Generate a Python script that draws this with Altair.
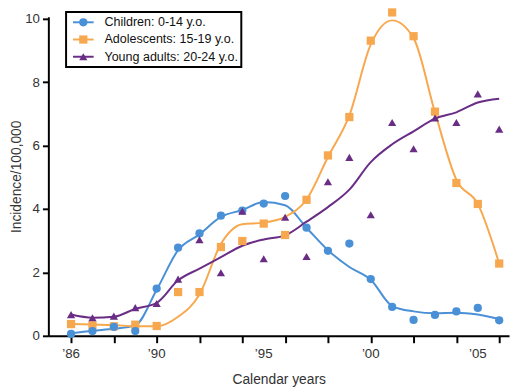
import altair as alt
import pandas as pd

years = list(range(1986, 2007))
series = ["Children: 0-14 y.o.", "Adolescents: 15-19 y.o.", "Young adults: 20-24 y.o."]
colors = ["#4a90d6", "#f7a84e", "#6a2d85"]
shapes = ["circle", "square", "triangle-up"]

# observed points
children_pts = [0.06, 0.15, 0.28, 0.15, 1.49, 2.78, 3.23, 3.79, 3.95, 4.17, 4.41,
                3.41, 2.68, 2.91, 1.79, 0.91, 0.50, 0.66, 0.77, 0.88, 0.49]
adolescents_pts = [0.37, 0.33, 0.30, 0.35, 0.31, 1.38, 1.38, 2.80, 2.99, 3.54, 3.18,
                   4.29, 5.69, 6.90, 9.31, 10.20, 9.45, 7.07, 4.82, 4.16, 2.28]
young_pts = [0.67, 0.57, 0.62, 0.89, 1.02, 1.79, 3.03, 1.99, 3.93, 2.43, 3.74,
             2.50, 4.86, 5.63, 3.82, 6.73, 5.90, 6.87, 6.73, 7.63, 6.52]

# smoothed curves
children_fit = [0.08, 0.16, 0.22, 0.33, 1.45, 2.70, 3.20, 3.75, 3.97, 4.22, 4.12,
                3.41, 2.70, 2.17, 1.77, 0.94, 0.77, 0.71, 0.73, 0.67, 0.53]
adolescents_fit = [0.37, 0.36, 0.34, 0.30, 0.30, 0.60, 1.30, 2.90, 3.52, 3.57, 3.75,
                   4.30, 5.64, 6.95, 9.19, 9.95, 9.39, 7.05, 4.92, 4.16, 2.28]
young_fit = [0.67, 0.57, 0.60, 0.85, 1.04, 1.75, 2.12, 2.48, 2.84, 3.04, 3.17,
             3.60, 4.06, 4.61, 5.48, 6.04, 6.45, 6.85, 7.05, 7.36, 7.48]

y_ticks = [0, 2, 4, 6, 8, 10]
x_label_years = [1986, 1990, 1995, 2000, 2005]
x_labels = ["\u201986", "\u201990", "\u201995", "\u201900", "\u201905"]

pts_by_series = {series[0]: children_pts, series[1]: adolescents_pts, series[2]: young_pts}
fit_by_series = {series[0]: children_fit, series[1]: adolescents_fit, series[2]: young_fit}
shape_by_series = dict(zip(series, shapes))
color_by_series = dict(zip(series, colors))

fit_rows = []
for s in series:
    for yr, v in zip(years, fit_by_series[s]):
        fit_rows.append({"year": yr, "value": v, "series": s})
fit_df = pd.DataFrame(fit_rows)

FONT = "Liberation Sans"
PLOT_H = 324

x_scale = alt.Scale(domain=[1984.94, 2006.46], nice=False, zero=False)
y_scale = alt.Scale(domain=[0, 10.06], nice=False)
color_scale = alt.Scale(domain=series, range=colors)

# year ticks on the axis; the year labels are drawn by a text layer below
x_axis = alt.Axis(values=years, labels=False, title="Calendar years",
                  grid=False, tickSize=7, titlePadding=29, titleFontSize=14)
y_axis = alt.Axis(values=y_ticks, title="Incidence/100,000", grid=False,
                  tickSize=6, labelPadding=3, titlePadding=1,
                  labelFontSize=13.5, titleFontSize=14)

lines = alt.Chart(fit_df).mark_line(strokeWidth=2, interpolate="monotone").encode(
    x=alt.X("year:Q", scale=x_scale, axis=x_axis),
    y=alt.Y("value:Q", scale=y_scale, axis=y_axis),
    color=alt.Color("series:N", scale=color_scale, legend=None),
    detail="series:N",
)

xlab_df = pd.DataFrame({"year": x_label_years, "label": x_labels})
x_tick_labels = alt.Chart(xlab_df).mark_text(
    align="center", baseline="middle", font=FONT, fontSize=13.5, color="#333333"
).encode(
    x=alt.X("year:Q", scale=x_scale),
    y=alt.value(PLOT_H + 19),
    text="label:N",
)

# point layers, drawn in this order: adolescents, children, young adults
point_layers = []
for s in [series[1], series[0], series[2]]:
    df = pd.DataFrame({"year": years, "value": pts_by_series[s], "series": s})
    point_layers.append(
        alt.Chart(df).mark_point(filled=True, opacity=1, clip=False, size=70,
                                 shape=shape_by_series[s]).encode(
            x=alt.X("year:Q", scale=x_scale),
            y=alt.Y("value:Q", scale=y_scale),
            color=alt.Color("series:N", scale=color_scale, legend=None),
        )
    )

# legend box (layout in pixels relative to the plot area)
LEG_X0, LEG_X1, LEG_Y0, LEG_Y1 = 18, 196, -5, 51
LEG_ROWS = [5.5, 23, 40.5]
SYM_X0, SYM_X1, TXT_X = 25, 46, 57

legend_layers = [
    alt.Chart(pd.DataFrame({"series": ["legend"]})).mark_rect(
        fill="white", stroke="black", strokeWidth=2
    ).encode(x=alt.value(LEG_X0), x2=alt.value(LEG_X1),
             y=alt.value(LEG_Y0), y2=alt.value(LEG_Y1))
]
for s, ry in zip(series, LEG_ROWS):
    one = pd.DataFrame({"series": [s]})
    c = color_by_series[s]
    legend_layers.append(
        alt.Chart(one).mark_rule(color=c, strokeWidth=2).encode(
            x=alt.value(SYM_X0), x2=alt.value(SYM_X1), y=alt.value(ry))
    )
    legend_layers.append(
        alt.Chart(one).mark_point(filled=True, opacity=1, size=70, color=c,
                                  shape=shape_by_series[s]).encode(
            x=alt.value((SYM_X0 + SYM_X1) / 2), y=alt.value(ry))
    )
    legend_layers.append(
        alt.Chart(one).mark_text(align="left", baseline="middle", font=FONT,
                                 fontSize=12.7, color="#111111").encode(
            x=alt.value(TXT_X), y=alt.value(ry), text="series:N")
    )

chart = (
    alt.layer(lines, x_tick_labels, *point_layers, *legend_layers)
    .properties(
        width=468, height=PLOT_H,
        autosize=alt.AutoSizeParams(type="none"),
        padding={"left": 41, "top": 6, "right": 3, "bottom": 50},
    )
    .configure_view(stroke=None)
    .configure_axis(
        domainColor="black", domainWidth=2, tickColor="black", tickWidth=2,
        labelColor="#333333", titleColor="#333333", labelFont=FONT, titleFont=FONT,
        titleFontWeight="normal",
    )
)

chart.save("out.html", embed_options={"renderer": "svg", "actions": False})
